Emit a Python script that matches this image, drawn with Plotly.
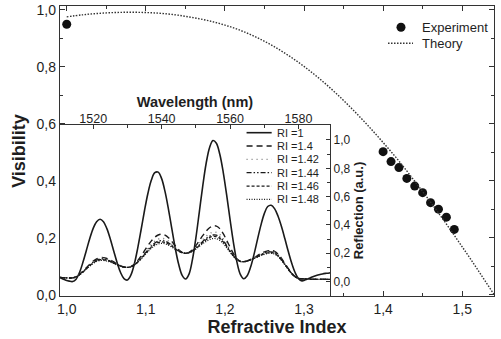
import plotly.graph_objects as go

# ---------------- main plot data ----------------
exp_ri = [1.00, 1.40, 1.41, 1.42, 1.43, 1.44, 1.45, 1.46, 1.47, 1.48, 1.49]
exp_vis = [0.949, 0.502, 0.467, 0.446, 0.408, 0.381, 0.358, 0.323, 0.300, 0.272, 0.229]

theory_ri = [1.00, 1.02, 1.04, 1.06, 1.08, 1.10, 1.12, 1.14, 1.16, 1.18, 1.20, 1.22, 1.24,
             1.26, 1.28, 1.30, 1.32, 1.34, 1.36, 1.38, 1.40, 1.42, 1.44, 1.46, 1.48,
             1.50, 1.52, 1.54]
theory_vis = [0.975, 0.982, 0.987, 0.990, 0.991, 0.990, 0.987, 0.981, 0.972, 0.961, 0.946,
              0.927, 0.903, 0.874, 0.840, 0.801, 0.757, 0.708, 0.654, 0.596, 0.534, 0.469,
              0.398, 0.325, 0.248, 0.168, 0.086, 0.002]

# ---------------- inset data ----------------
wavelength = list(range(1510, 1591))

refl_ri_1 = [0.030, 0.020, 0.010, 0.003, 0.000, 0.017, 0.064, 0.136, 0.220, 0.304, 0.376,
             0.423, 0.440, 0.423, 0.374, 0.301, 0.216, 0.133, 0.064, 0.021, 0.011, 0.045,
             0.122, 0.235, 0.366, 0.502, 0.624, 0.717, 0.769, 0.773, 0.727, 0.635, 0.510,
             0.370, 0.233, 0.120, 0.044, 0.018, 0.053, 0.155, 0.307, 0.489, 0.673, 0.834,
             0.946, 0.996, 0.977, 0.899, 0.772, 0.612, 0.438, 0.274, 0.139, 0.051, 0.020,
             0.041, 0.102, 0.192, 0.296, 0.397, 0.480, 0.530, 0.539, 0.515, 0.463, 0.390,
             0.304, 0.214, 0.131, 0.064, 0.020, 0.005, 0.012, 0.022, 0.032, 0.041, 0.048,
             0.054, 0.058, 0.061, 0.062]

refl_ri_140 = [0.030, 0.028, 0.026, 0.025, 0.026, 0.035, 0.051, 0.073, 0.098, 0.122, 0.144,
               0.160, 0.169, 0.169, 0.163, 0.153, 0.139, 0.124, 0.112, 0.103, 0.100, 0.106,
               0.122, 0.148, 0.181, 0.218, 0.254, 0.287, 0.313, 0.329, 0.335, 0.328, 0.310,
               0.282, 0.253, 0.225, 0.207, 0.200, 0.207, 0.225, 0.254, 0.289, 0.324, 0.356,
               0.380, 0.393, 0.392, 0.374, 0.338, 0.292, 0.243, 0.197, 0.161, 0.143, 0.141,
               0.146, 0.156, 0.169, 0.184, 0.198, 0.210, 0.217, 0.220, 0.213, 0.194, 0.165,
               0.129, 0.093, 0.060, 0.035, 0.022, 0.020, 0.018, 0.017, 0.016, 0.016, 0.016,
               0.016, 0.016, 0.016, 0.016]

refl_ri_142 = [0.030, 0.028, 0.026, 0.025, 0.026, 0.034, 0.050, 0.071, 0.095, 0.119, 0.140,
               0.156, 0.164, 0.164, 0.159, 0.149, 0.136, 0.122, 0.111, 0.103, 0.100, 0.105,
               0.119, 0.142, 0.171, 0.203, 0.234, 0.263, 0.286, 0.300, 0.305, 0.300, 0.285,
               0.264, 0.241, 0.220, 0.205, 0.200, 0.205, 0.220, 0.242, 0.268, 0.296, 0.320,
               0.339, 0.349, 0.348, 0.332, 0.303, 0.266, 0.224, 0.187, 0.158, 0.142, 0.141,
               0.146, 0.155, 0.167, 0.181, 0.194, 0.205, 0.212, 0.215, 0.208, 0.190, 0.161,
               0.126, 0.091, 0.059, 0.035, 0.022, 0.020, 0.018, 0.017, 0.016, 0.016, 0.016,
               0.016, 0.016, 0.016, 0.016]

refl_ri_144 = [0.030, 0.028, 0.026, 0.025, 0.026, 0.034, 0.049, 0.069, 0.093, 0.116, 0.136,
               0.151, 0.159, 0.159, 0.154, 0.145, 0.133, 0.121, 0.110, 0.103, 0.100, 0.105,
               0.118, 0.139, 0.166, 0.195, 0.224, 0.251, 0.272, 0.285, 0.290, 0.286, 0.273,
               0.255, 0.235, 0.217, 0.205, 0.200, 0.204, 0.217, 0.236, 0.259, 0.283, 0.304,
               0.320, 0.329, 0.328, 0.314, 0.288, 0.254, 0.216, 0.182, 0.156, 0.142, 0.141,
               0.145, 0.154, 0.165, 0.178, 0.191, 0.201, 0.208, 0.210, 0.204, 0.185, 0.157,
               0.124, 0.089, 0.058, 0.034, 0.022, 0.020, 0.018, 0.017, 0.016, 0.016, 0.016,
               0.016, 0.016, 0.016, 0.016]

refl_ri_146 = [0.030, 0.028, 0.026, 0.025, 0.026, 0.034, 0.048, 0.068, 0.090, 0.112, 0.132,
               0.146, 0.154, 0.154, 0.150, 0.141, 0.130, 0.119, 0.109, 0.102, 0.100, 0.104,
               0.117, 0.137, 0.162, 0.190, 0.218, 0.243, 0.263, 0.276, 0.280, 0.276, 0.265,
               0.249, 0.231, 0.215, 0.204, 0.200, 0.204, 0.216, 0.233, 0.254, 0.276, 0.296,
               0.311, 0.319, 0.318, 0.305, 0.280, 0.248, 0.212, 0.180, 0.155, 0.142, 0.141,
               0.145, 0.153, 0.164, 0.175, 0.187, 0.197, 0.203, 0.205, 0.199, 0.181, 0.154,
               0.121, 0.087, 0.057, 0.034, 0.022, 0.020, 0.018, 0.017, 0.016, 0.016, 0.016,
               0.016, 0.016, 0.016, 0.016]

refl_ri_148 = [0.030, 0.028, 0.026, 0.025, 0.026, 0.033, 0.047, 0.066, 0.088, 0.109, 0.128,
               0.142, 0.149, 0.149, 0.145, 0.138, 0.128, 0.117, 0.108, 0.102, 0.100, 0.104,
               0.116, 0.135, 0.159, 0.185, 0.211, 0.235, 0.254, 0.266, 0.270, 0.267, 0.257,
               0.243, 0.227, 0.213, 0.204, 0.200, 0.204, 0.214, 0.229, 0.248, 0.267, 0.284,
               0.297, 0.304, 0.303, 0.291, 0.268, 0.239, 0.206, 0.177, 0.154, 0.142, 0.141,
               0.144, 0.152, 0.162, 0.173, 0.183, 0.192, 0.198, 0.200, 0.194, 0.177, 0.150,
               0.118, 0.085, 0.056, 0.034, 0.022, 0.020, 0.018, 0.017, 0.016, 0.016, 0.016,
               0.016, 0.016, 0.016, 0.016]

inset_names = ["RI =1", "RI =1.4", "RI =1.42", "RI =1.44", "RI =1.46", "RI =1.48"]
inset_series = [refl_ri_1, refl_ri_140, refl_ri_142, refl_ri_144, refl_ri_146, refl_ri_148]
inset_dash = ["solid", "6px,4px", "1px,4px", "5px,2px,1.5px,2px,1.5px,2px", "3px,2px", "1px,1.5px"]
inset_color = ["#1a1a1a", "#1a1a1a", "#777777", "#1a1a1a", "#1a1a1a", "#1a1a1a"]
inset_width = [1.6, 1.4, 1.4, 1.3, 1.3, 1.3]

FONT = "Liberation Sans, Arial, sans-serif"
INK = "#1e1e1e"
THEORY_DASH = "1.5px,1.5px"

fig = go.Figure()

# main plot traces
fig.add_trace(go.Scatter(x=exp_ri, y=exp_vis, mode="markers", name="Experiment",
                         marker=dict(color="#111111", size=9, symbol="circle"),
                         xaxis="x", yaxis="y", showlegend=False))
fig.add_trace(go.Scatter(x=theory_ri, y=theory_vis, mode="lines", name="Theory",
                         line=dict(color="#333333", width=1.4, dash=THEORY_DASH, shape="spline"),
                         xaxis="x", yaxis="y", showlegend=False))

# inset traces
for name, vals, dash, col, w in zip(inset_names, inset_series, inset_dash, inset_color, inset_width):
    fig.add_trace(go.Scatter(x=wavelength, y=vals, mode="lines", name=name,
                             line=dict(color=col, width=w, dash=dash, shape="spline"),
                             xaxis="x2", yaxis="y2", showlegend=False))

# main legend (manual, compact rows)
fig.add_shape(type="circle", xref="paper", yref="paper", xsizemode="pixel", ysizemode="pixel",
              xanchor=0.7857, yanchor=0.9266, x0=-4.5, x1=4.5, y0=-4.5, y1=4.5,
              fillcolor="#111111", line=dict(color="#111111", width=0))
fig.add_annotation(text="Experiment", xref="paper", yref="paper", x=0.8295, y=0.9266,
                   xanchor="left", yanchor="middle", showarrow=False,
                   font=dict(family=FONT, size=13, color=INK))
fig.add_shape(type="line", xref="paper", yref="paper", x0=0.7558, x1=0.8134, y0=0.8714, y1=0.8714,
              line=dict(color="#333333", width=1.4, dash=THEORY_DASH))
fig.add_annotation(text="Theory", xref="paper", yref="paper", x=0.8295, y=0.8714,
                   xanchor="left", yanchor="middle", showarrow=False,
                   font=dict(family=FONT, size=13, color=INK))

# inset legend (manual, compact rows)
row_y = [0.955, 0.877, 0.799, 0.721, 0.643, 0.565]
for name, dash, col, w, yy in zip(inset_names, inset_dash, inset_color, inset_width, row_y):
    fig.add_shape(type="line", xref="x2 domain", yref="y2 domain",
                  x0=0.691, x1=0.784, y0=yy, y1=yy,
                  line=dict(color=col, width=w, dash=dash))
    fig.add_annotation(text=name, xref="x2 domain", yref="y2 domain", x=0.796, y=yy,
                       xanchor="left", yanchor="middle", showarrow=False,
                       font=dict(family=FONT, size=11, color=INK))

axis_common = dict(showline=True, linecolor="#333333", linewidth=1.3, ticks="inside",
                   tickcolor="#333333", tickwidth=1.2, showgrid=False, zeroline=False,
                   automargin=False, tickfont=dict(family=FONT, size=14, color=INK))

fig.update_layout(
    width=501, height=339,
    margin=dict(l=60, r=7, t=6, b=43, autoexpand=False),
    paper_bgcolor="white", plot_bgcolor="white",
    separators=",.",
    font=dict(family=FONT, color=INK),
    showlegend=False,
    xaxis=dict(**axis_common, range=[0.9915, 1.5402], tick0=1.0, dtick=0.1, tickformat=".1f",
               ticklen=5, mirror="ticks",
               minor=dict(dtick=0.05, ticks="inside", ticklen=3, tickcolor="#333333"),
               title=dict(text="<b>Refractive Index</b>", font=dict(family=FONT, size=18, color=INK),
                          standoff=4)),
    yaxis=dict(**axis_common, range=[-0.0046, 1.013], tick0=0, dtick=0.2, tickformat=".1f",
               ticklen=5, mirror="ticks",
               minor=dict(dtick=0.1, ticks="inside", ticklen=3, tickcolor="#333333"),
               title=dict(text="<b>Visibility</b>", font=dict(family=FONT, size=18, color=INK),
                          standoff=6)),
    xaxis2=dict(showline=True, linecolor="#333333", linewidth=1.3, ticks="inside",
                tickcolor="#333333", tickwidth=1.2, ticklen=4, showgrid=False, zeroline=False,
                automargin=False,
                domain=[0, 0.6221], anchor="y2", side="top", range=[1510.3, 1589.2],
                tick0=1520, dtick=20, ticklabelstandoff=-4,
                minor=dict(dtick=10, ticks="inside", ticklen=2.5, tickcolor="#333333"),
                tickfont=dict(family=FONT, size=12.5, color=INK),
                title=dict(text="<b>Wavelength (nm)</b>", font=dict(family=FONT, size=14.5, color=INK),
                           standoff=0)),
    yaxis2=dict(showline=True, linecolor="#333333", linewidth=1.3, ticks="inside",
                tickcolor="#333333", tickwidth=1.2, ticklen=4, showgrid=False, zeroline=False,
                automargin=False,
                domain=[0, 0.5897], anchor="x2", side="right", range=[-0.102, 1.106],
                tick0=0, dtick=0.2, tickformat=".1f",
                minor=dict(dtick=0.1, ticks="inside", ticklen=2.5, tickcolor="#333333"),
                tickfont=dict(family=FONT, size=12, color=INK),
                title=dict(text="<b>Reflection (a.u.)</b>", font=dict(family=FONT, size=13, color=INK),
                           standoff=2)),
)

fig.write_html("out.html", config={"displayModeBar": False},
               post_script="document.body.style.margin='0';")
